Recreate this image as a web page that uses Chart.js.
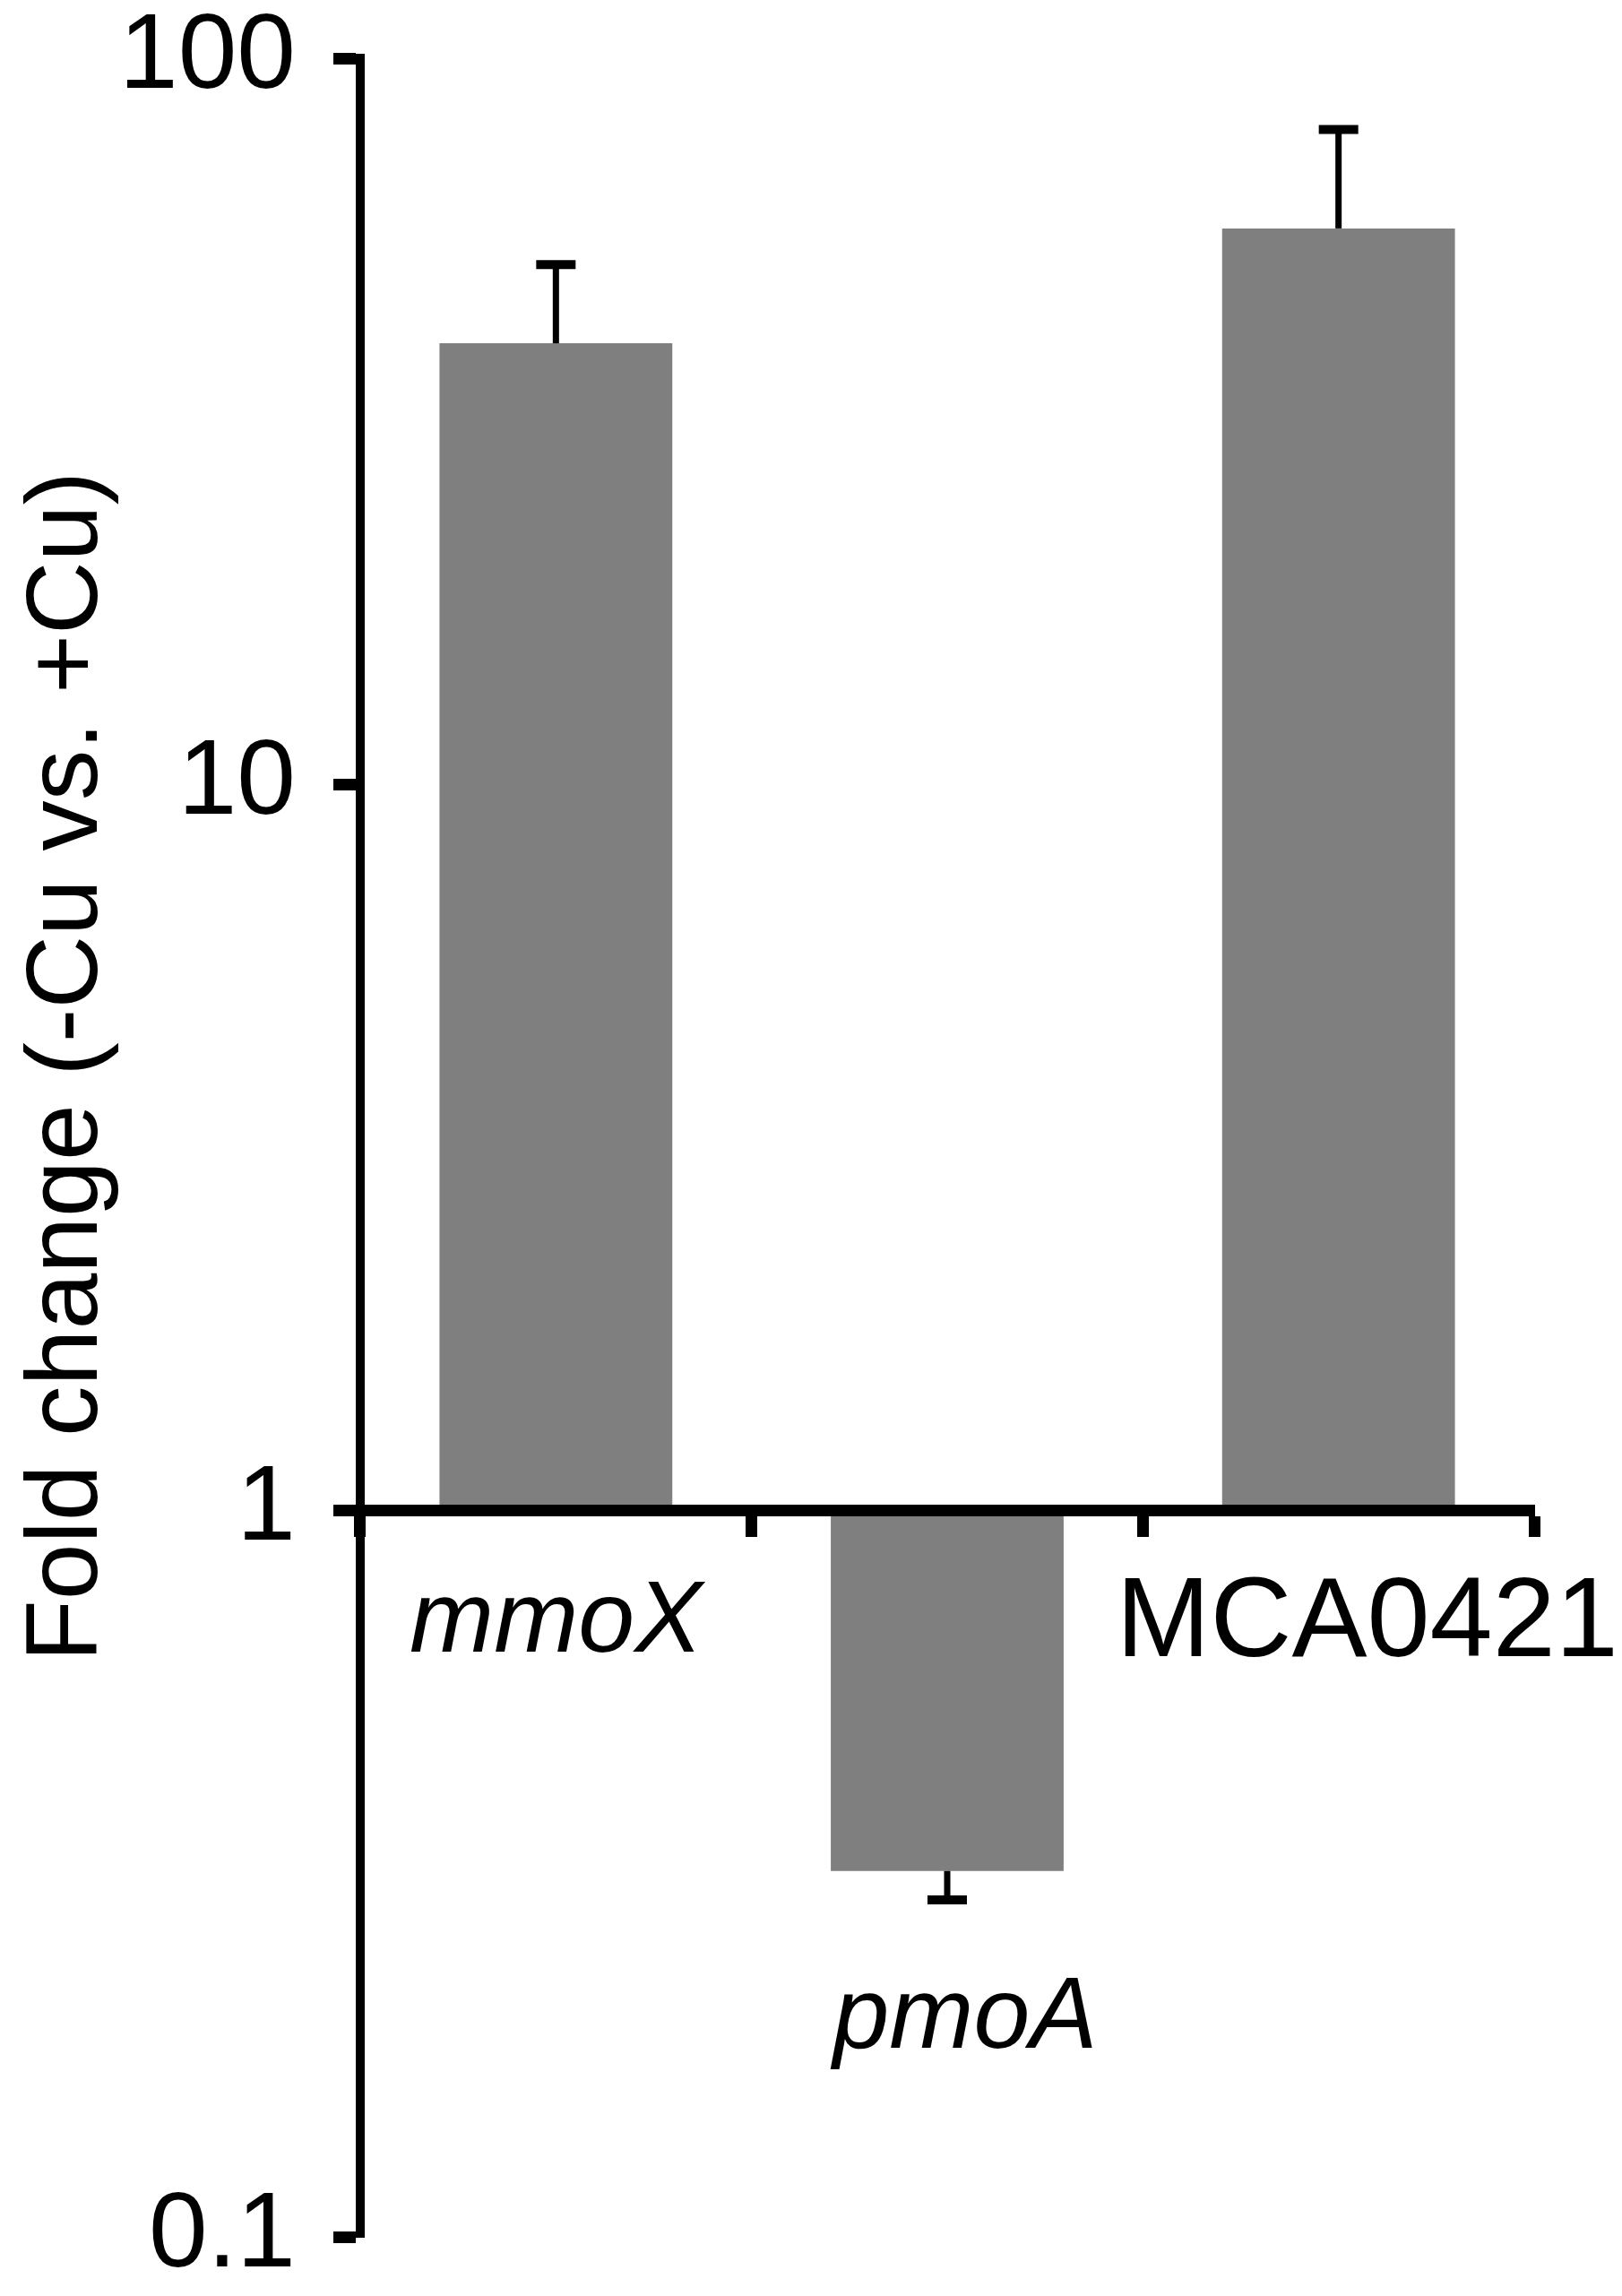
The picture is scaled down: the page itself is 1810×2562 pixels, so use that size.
<!DOCTYPE html>
<html>
<head>
<meta charset="utf-8">
<title>Fold change (-Cu vs. +Cu)</title>
<script src="https://cdn.jsdelivr.net/npm/chart.js@4.4.0/dist/chart.umd.min.js"></script>
<style>
    html, body { margin: 0; padding: 0; background: #ffffff; }
    #wrap { width: 1810px; height: 2562px; }
</style>
</head>
<body>
<div id="wrap"><canvas id="chart" width="1810" height="2562"></canvas></div>
<script>
// Genes on the x axis
const genes = ['mmoX', 'pmoA', 'MCA0421'];
const italicGenes = [true, true, false];

// Fold change (-Cu vs. +Cu)
const foldChange = [40.5, 0.319, 58.3];

// Where each error whisker ends (down for pmoA, up for the others)
const errorEnd = [52.0, 0.291, 79.8];

// Y axis tick labels
const yTicks = [0.1, 1, 10, 100];

// Bars hang from the fold change = 1 line
const baseline = 1;

const FONT = "'Liberation Sans', Arial, Helvetica, sans-serif";
const INK = '#000000';
const BAR_GREY = '#7f7f7f';

/**
 * Draws the error whiskers on top of the bars
 */
const errorBarPlugin = {
    id: 'errorBars',
    afterDatasetsDraw(chart) {
        const ctx = chart.ctx;
        const xScale = chart.scales.x;
        const yScale = chart.scales.y;
        ctx.save();
        ctx.strokeStyle = INK;
        genes.forEach((gene, i) => {
            const x = xScale.getPixelForValue(i);
            const yBar = yScale.getPixelForValue(foldChange[i]);
            const yEnd = yScale.getPixelForValue(errorEnd[i]);

            // stem
            ctx.lineWidth = 7;
            ctx.beginPath();
            ctx.moveTo(x, yBar);
            ctx.lineTo(x, yEnd);
            ctx.stroke();

            // cap
            ctx.lineWidth = 10;
            ctx.beginPath();
            ctx.moveTo(x - 22, yEnd);
            ctx.lineTo(x + 22, yEnd);
            ctx.stroke();
        });
        ctx.restore();
    }
};

/**
 * Gene names under the axis and the rotated y title
 */
const labelPlugin = {
    id: 'geneLabels',
    afterDraw(chart) {
        const ctx = chart.ctx;
        const xScale = chart.scales.x;
        const yScale = chart.scales.y;
        const axisY = yScale.getPixelForValue(baseline);

        // per-label nudges, pmoA sits below its bar
        const dx = [0, 20, 32];
        const dy = [157, 599, 162];
        const sizes = [113, 113, 126];

        ctx.save();
        ctx.fillStyle = INK;
        ctx.textAlign = 'center';
        ctx.textBaseline = 'alphabetic';
        genes.forEach((gene, i) => {
            const style = italicGenes[i] ? 'italic ' : '';
            ctx.font = `${style}${sizes[i]}px ${FONT}`;
            ctx.fillText(gene, xScale.getPixelForValue(i) + dx[i], axisY + dy[i]);
        });

        // y axis title
        ctx.translate(108, 1190);
        ctx.rotate(-Math.PI / 2);
        ctx.font = `113px ${FONT}`;
        ctx.fillText('Fold change (-Cu vs. +Cu)', 0, 0);
        ctx.restore();
    }
};

const ctx = document.getElementById('chart').getContext('2d');

new Chart(ctx, {
    type: 'bar',
    data: {
        labels: genes,
        datasets: [
            {
                label: 'Fold change',
                data: genes.map((g, i) => [baseline, foldChange[i]]),
                backgroundColor: BAR_GREY,
                borderWidth: 0,
                barPercentage: 0.595,
                categoryPercentage: 1
            }
        ]
    },
    options: {
        responsive: false,
        animation: false,
        devicePixelRatio: 1,
        layout: {
            padding: { top: 65, bottom: 66, left: 0, right: 98 }
        },
        plugins: {
            legend: { display: false },
            tooltip: { enabled: false }
        },
        scales: {
            x: {
                type: 'category',
                position: { y: baseline },
                offset: true,
                grid: {
                    offset: true,
                    drawOnChartArea: false,
                    drawTicks: true,
                    tickLength: 23,
                    tickWidth: 13,
                    color: INK,
                    z: 1
                },
                border: { display: true, width: 13, color: INK, z: 1 },
                ticks: { display: false },
                afterFit: (scale) => { scale.height = 0; }
            },
            y: {
                type: 'logarithmic',
                position: 'left',
                min: 0.1,
                max: 100,
                afterBuildTicks: (scale) => {
                    scale.ticks = yTicks.map(v => ({ value: v }));
                },
                ticks: {
                    color: INK,
                    padding: 42,
                    font: { family: FONT, size: 118, lineHeight: 1 },
                    callback: (value) => String(value)
                },
                grid: {
                    drawOnChartArea: false,
                    drawTicks: true,
                    tickLength: 30,
                    tickWidth: 13,
                    color: INK
                },
                border: { display: true, width: 10, color: INK, z: 1 },
                afterFit: (scale) => {
                    // fixed axis box, labels may overhang the layout padding
                    scale.width = 402;
                    scale.paddingTop = 0;
                    scale.paddingBottom = 0;
                }
            }
        }
    },
    plugins: [errorBarPlugin, labelPlugin]
});
</script>
</body>
</html>
